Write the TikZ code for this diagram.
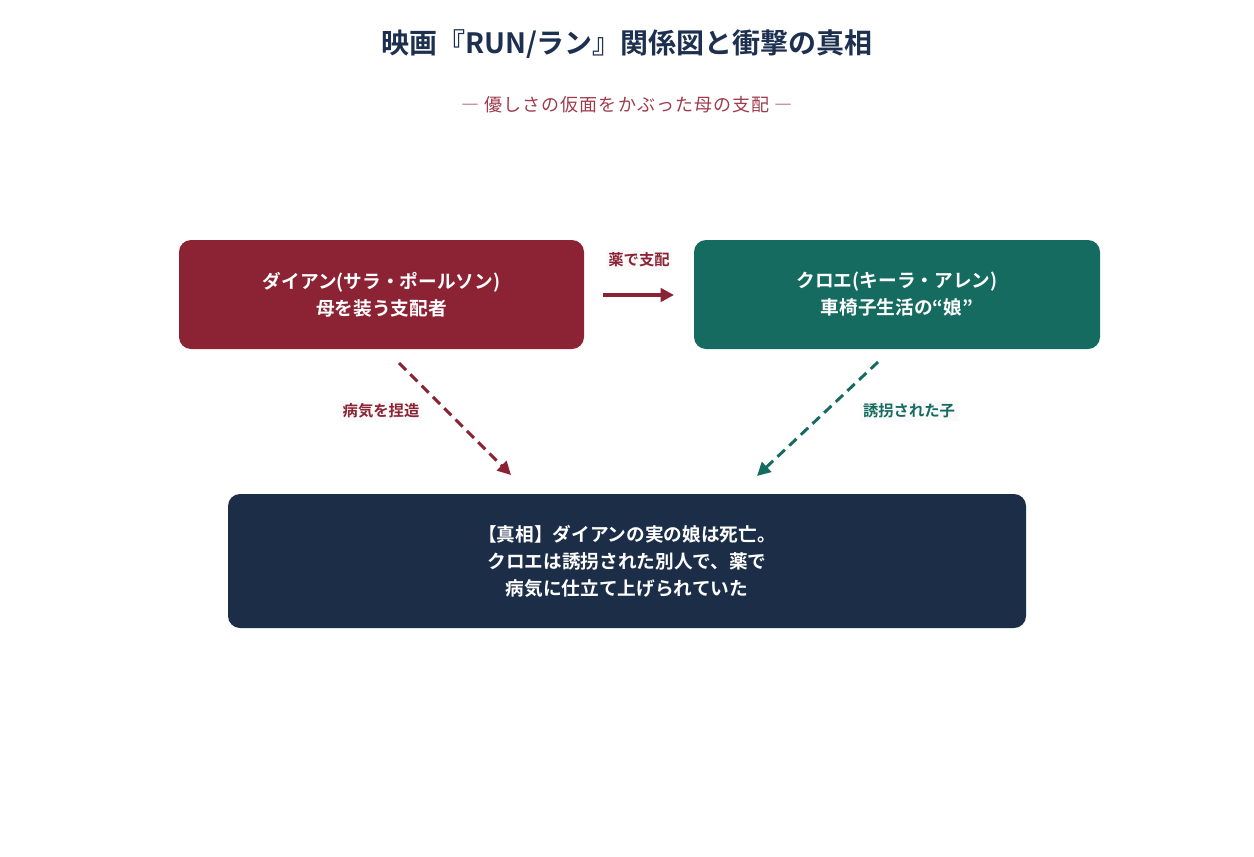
\documentclass[tikz,border=0pt]{standalone}
\usepackage{fontspec}
\setmainfont{Noto Sans CJK JP}
\newfontfamily\jpbold{Noto Sans CJK JP Bold}
\newfontfamily\jplight[LetterSpace=6]{Noto Sans CJK JP}
\usetikzlibrary{arrows.meta}
\definecolor{cred}{HTML}{8B2334}
\definecolor{cgreen}{HTML}{166B60}
\definecolor{cnavy}{HTML}{1C2D48}
\definecolor{ctitle}{HTML}{1E3050}
\definecolor{csub}{HTML}{A03B4E}
\definecolor{clabbg}{HTML}{FAFAFA}
\tikzset{
  box/.style={rounded corners=9pt, inner sep=0pt, text=white, align=center,
    font=\jpbold\fontsize{14pt}{20.25pt}\selectfont},
  lab/.style={fill=clabbg, inner sep=2pt, font=\jpbold\fontsize{11.5pt}{13pt}\selectfont},
  conn/.style={line width=2.5pt, -{Triangle[length=10pt,width=10pt]}},
  dconn/.style={line width=2.2pt, dash pattern=on 7.5pt off 4.5pt, -{Triangle[length=10pt,width=10pt]}}
}
\begin{document}
\begin{tikzpicture}[x=0.75pt,y=-0.75pt]
\useasboundingbox[fill=white] (0,0) rectangle (1254,857);
\node[font=\jpbold\fontsize{21pt}{25pt}\selectfont, text=ctitle] (title) at (627,44) {映画『RUN/ラン』関係図と衝撃の真相};
\node[font=\jplight\fontsize{13.5pt}{16pt}\selectfont, text=csub] (sub) at (627,105) {― 優しさの仮面をかぶった母の支配 ―};
\node[box, fill=cred, minimum width=405*0.75pt, minimum height=109*0.75pt] (diane) at (381.5,294.5) {ダイアン(サラ・ポールソン)\\母を装う支配者};
\node[box, fill=cgreen, minimum width=406*0.75pt, minimum height=109*0.75pt] (chloe) at (897,294.5) {クロエ(キーラ・アレン)\\車椅子生活の“娘”};
\node[box, fill=cnavy, minimum width=798*0.75pt, minimum height=134*0.75pt] (truth) at (627,561) {【真相】ダイアンの実の娘は死亡。\\クロエは誘拐された別人で、薬で\\病気に仕立て上げられていた};
\coordinate (a1s) at (603,295);
\coordinate (a1e) at (674,295);
\coordinate (a2s) at (399,363);
\coordinate (a2e) at (511,475);
\coordinate (a3s) at (878,362);
\coordinate (a3e) at (757,476);
\draw[conn, cred] (a1s) -- (a1e);
\draw[dconn, cred] (a2s) -- (a2e);
\draw[dconn, cgreen] (a3s) -- (a3e);
\node[lab, text=cred] (l1) at (639,260) {薬で支配};
\node[lab, text=cred] (l2) at (381,411) {病気を捏造};
\node[lab, text=cgreen] (l3) at (909,411) {誘拐された子};
\end{tikzpicture}
\end{document}
